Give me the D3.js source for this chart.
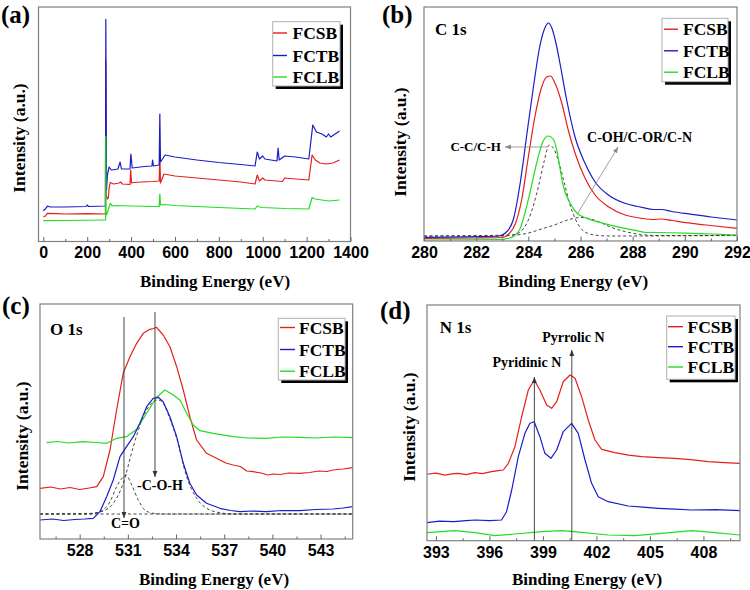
<!DOCTYPE html>
<html><head><meta charset="utf-8">
<script src="https://cdn.jsdelivr.net/npm/d3@7"></script>
<style>
html,body{margin:0;padding:0;background:#fff;}
svg{display:block;}
</style></head><body>
<svg id="chart" width="750" height="590"></svg>
<script>
// ---------- DATA ----------
const seriesNames = ["FCSB", "FCTB", "FCLB"];

// (a) survey spectra [binding energy eV, intensity a.u.]
const surveyFCSB = [[0,24.8],[10,25.5],[18,28.2],[60,27.8],[100,27.5],[200,27.8],[283,27.5],[284.8,181.5],[287,45.5],[292,42.5],[296,43.5],[300,53.5],[305,59],[320,57.5],[345,58.5],[352,59.5],[360,57.5],[395,57],[398,71.5],[402,58.5],[410,59],[450,59.5],[500,60],[528,60.5],[531,85.5],[534,58.5],[540,62],[550,67.5],[600,65.5],[700,63.5],[800,61.5],[900,59.5],[965,57.5],[975,66.5],[985,60.5],[1000,63.5],[1010,61.5],[1090,60],[1100,63.5],[1150,62.5],[1210,61.5],[1225,86.5],[1240,81.5],[1260,78.5],[1290,77.5],[1320,78.5],[1350,81.5]];
const surveyFCTB = [[0,30.8],[10,32.8],[20,35.5],[30,34.5],[100,34.5],[195,35],[200,36.5],[206,35],[283,35.5],[284.8,222.2],[288,51.5],[292,66.5],[300,74.5],[310,71.5],[340,72.5],[350,79.5],[356,72.5],[395,72.5],[399,87.5],[405,73.5],[460,75],[495,75.5],[498,81.5],[502,75.5],[528,76.5],[531,127.5],[534,79.5],[540,81.5],[555,86.5],[600,84.5],[700,81.5],[800,79],[900,77],[965,75.5],[975,89.5],[985,82.5],[1000,85.5],[1010,82.5],[1065,80.5],[1070,93.5],[1075,81.5],[1100,85.5],[1150,84.5],[1210,82.5],[1228,116.5],[1245,109.5],[1270,107.5],[1290,104.5],[1300,107.5],[1310,104.5],[1350,110.5]];
const surveyFCLB = [[0,20.8],[100,21],[280,21.5],[284,21.5],[284.8,105.5],[286,26.5],[290,27.5],[300,34.5],[305,38],[315,35.5],[330,36],[400,35.5],[500,35],[528,35],[531,47.5],[534,36.5],[550,37],[600,36],[800,34],[965,32.5],[975,35.5],[985,34.5],[1000,34],[1100,33],[1210,32.5],[1225,44],[1240,42.5],[1300,40.5],[1350,41.5]];

// (b) C 1s
const c1sFCSB = [[280,2.7],[282,3],[283,3.5],[283.25,7],[283.5,17],[283.75,42],[284,84],[284.25,124],[284.5,153],[284.7,164],[284.85,165],[285.02,158],[285.28,138],[285.53,111],[285.79,88],[286.17,63],[286.56,46],[287.07,34.3],[287.71,26],[288.35,22.7],[288.8,21.5],[289.1,22],[289.5,20.5],[290.26,17.7],[291,15.5],[292,12.7]];
const c1sFCTB = [[280,3.7],[282,4.3],[282.85,5],[283.2,10],[283.45,24],[283.7,60],[283.95,108],[284.2,155],[284.45,196],[284.65,214],[284.77,218],[284.9,213],[285.05,199],[285.21,178],[285.47,141],[285.79,104],[286.17,78],[286.56,59],[287.07,46],[287.7,37.7],[288.35,33.7],[288.8,31.5],[289.1,31.5],[289.5,29.5],[290.26,26.7],[291,24],[292,21]];
const c1sFCLB = [[280,1],[282.98,1.5],[283.23,2.7],[283.45,5],[283.68,12],[283.87,28],[284.06,48],[284.32,78],[284.57,100],[284.77,105],[284.95,102],[285.09,91],[285.21,73],[285.34,55],[285.6,38],[285.86,28],[286.24,22.7],[286.88,17.7],[287.39,14.3],[288.16,10.3],[288.5,8.5],[289,8.5],[290.26,7.7],[291,7],[292,6]];
const c1sFitCC = [[280,5],[283,5],[283.5,6.5],[283.8,12],[284,21],[284.2,36],[284.4,56],[284.6,79],[284.8,96],[285,91],[285.2,76],[285.4,56],[285.6,36],[285.8,22],[286,13],[286.3,7.5],[286.7,5.5],[287.2,5],[292,5.5]];
const c1sFitCOH = [[280,5],[283.5,6],[284,8],[284.5,12],[285,16],[285.5,21],[286,23.5],[286.4,22],[286.8,18],[287.2,13.5],[287.7,9.5],[288.3,6.5],[289,5.5],[292,5.5]];

// (c) O 1s
const o1sFCSB = [[525.53,50.7],[526.2,52],[526.8,50],[527.4,51.5],[528,49.5],[528.6,51],[529.06,52.3],[529.47,62.3],[529.89,89],[530.3,129],[530.71,165.7],[531.13,182.3],[531.55,195.7],[531.96,205.7],[532.37,209.7],[532.6,210.5],[532.79,211.7],[533.2,204],[533.62,192.3],[534.04,172.3],[534.45,149],[534.86,122.3],[535.28,99],[535.9,85.7],[536.73,79],[537.1,76],[537.56,74],[538,72.5],[538.4,68],[538.8,67.3],[539.3,66],[539.7,64],[540.05,65],[540.5,64.5],[541,66],[541.7,65.7],[542.3,66.5],[542.9,68],[543.4,67.5],[543.78,69],[544.4,70],[545,71.3]];
const o1sFCTB = [[525.53,19],[526.3,20],[527,18.5],[527.7,19.5],[528.3,20],[528.85,20.7],[529.26,27.3],[529.68,42.3],[530.09,59],[530.51,82.3],[530.92,92.3],[531.34,102.3],[531.75,115.7],[532.17,132.3],[532.58,140.7],[532.89,141.7],[533.2,137.3],[533.62,122.3],[534.04,102.3],[534.45,75.7],[534.86,55.7],[535.28,44],[535.9,35.7],[536.73,30.7],[537.4,28.5],[537.97,27.3],[538.8,28],[539.63,27.3],[540.6,28.5],[541.7,28.3],[542.7,29.5],[543.78,30],[544.4,31],[545,32.3]];
const o1sFCLB = [[525.95,96.3],[526.6,97.5],[527.3,96],[528.22,97.3],[529,96.5],[529.68,95.7],[530.3,100.7],[530.92,102.3],[531.55,109.7],[532.17,125.7],[532.79,141.7],[533.31,149],[533.83,144],[534.24,139],[534.66,125.7],[535.07,114],[535.49,108.3],[536.31,105.7],[537.56,102.3],[538.5,101],[539.63,100.7],[540.6,102],[541.7,101.7],[542.7,101],[543.8,102],[545,101.3]];
const o1sFitCO = [[525.53,25],[528.5,25],[529.26,27.3],[529.89,37.3],[530.3,52.3],[530.6,60],[530.88,64],[531.24,54],[531.65,39],[532.06,29],[532.58,25.7],[533.2,25],[545,25]];
const o1sFitCOH = [[525.53,25],[528.5,25.5],[529.26,27],[530.09,35.7],[530.71,55.7],[531.34,92.3],[531.96,122.3],[532.58,137.3],[532.89,139],[533.2,135.7],[533.62,120],[534.04,100.7],[534.66,62.3],[535.28,40.7],[535.9,30.7],[536.73,26.3],[537.56,25],[545,25]];
const o1sFitBase = [[525.53,25],[545,25]];

// (d) N 1s
const n1sFCSB = [[392.48,66.4],[393,67.5],[393.5,65.5],[394,67],[394.25,67.4],[394.7,66],[395.19,68],[395.6,67],[396.12,69],[396.5,70],[396.78,70.7],[397.06,77.4],[397.43,94],[397.81,124],[398.18,150.7],[398.51,160.7],[398.83,150.7],[399.21,135.7],[399.49,132.4],[399.77,139],[400.14,159],[400.52,165.7],[400.8,162.4],[401.17,144],[401.54,120.7],[401.92,100.7],[402.29,91.4],[403.04,88],[403.8,85.5],[404.54,84],[405.5,83],[406.4,82.4],[407.3,81],[408.27,79],[409.2,78],[410.05,77.4]];
const n1sFCTB = [[392.48,18],[393.2,19.5],[394,19],[394.7,20],[395.2,20.7],[396,20],[396.68,20.7],[396.96,29],[397.25,50.7],[397.62,84],[397.99,107.4],[398.27,117.4],[398.51,119],[398.83,104],[399.11,87.4],[399.45,82.4],[399.77,90.7],[400.14,109],[400.61,117.4],[400.98,107.4],[401.36,80.7],[401.73,57.4],[402.1,44],[402.66,39],[403.79,34.7],[404.6,33.5],[405.47,32.4],[406.4,31.5],[407.34,30.7],[408.7,31],[410.05,30]];
const n1sFCLB = [[392.48,8],[394.07,10],[395.19,8],[396.31,5],[397.43,6.7],[398.93,9],[400.05,10],[401.17,8.4],[402.66,5.7],[404.16,5],[405.66,7.4],[407.34,10],[408.65,8],[410.05,5.7]];

// tick values
const ticksA = [0,200,400,600,800,1000,1200,1400];
const minorA = [100,300,500,700,900,1100,1300];
const ticksB = [280,282,284,286,288,290,292];
const minorB = [281,283,285,287,289,291];
const ticksC = [528,531,534,537,540,543];
const minorC = [526.5,529.5,532.5,535.5,538.5,541.5,544.5];
const ticksD = [393,396,399,402,405,408];
const minorD = [394.5,397.5,400.5,403.5,406.5,409.5];

// annotations
const cArrows = [[530.76,222,21],[532.69,227,62]];      // [eV, top, bottom]
const dArrows = [[398.52,163.7,0],[400.62,190.7,0]];

// ---------- DRAW ----------
const colors = ["#e3201c", "#1c1cc8", "#22dd22"];
const SERIF = "'Liberation Serif','Times New Roman',serif";
const SANS = "'Liberation Sans',Arial,sans-serif";
const svg = d3.select("#chart");
const defs = svg.append("defs");
function mk(id, color){
  defs.append("marker").attr("id",id).attr("viewBox","0 0 10 10")
    .attr("refX",10).attr("refY",5).attr("markerWidth",6).attr("markerHeight",6)
    .attr("markerUnits","userSpaceOnUse").attr("orient","auto")
    .append("path").attr("d","M0,1L10,5L0,9z").attr("fill",color);
}
mk("arrDark","#333"); mk("arrGray","#888");

const panels = [
  {id:"a", x0:38.5, x1:350.5, y0:7, y1:241.5, xd:[-22,1400], ticks:ticksA, minor:minorA,
   series:[surveyFCSB,surveyFCTB,surveyFCLB], order:[0,1,2], curve:d3.curveLinear, fits:[],
   label:{x:1,y:23,t:"(a)"}, xt:{x:215,y:287}, yt:{x:25,y:138},
   leg:{x:272.7,y:21.7,w:67.3,h:64.3,rows:[33,55.5,77],l0:273,l1:287,tx:292.5}},
  {id:"b", x0:424, x1:737, y0:7, y1:241, xd:[280,292], ticks:ticksB, minor:minorB,
   series:[c1sFCSB,c1sFCTB,c1sFCLB], order:[0,1,2], curve:d3.curveMonotoneX, fits:[c1sFitCC,c1sFitCOH],
   label:{x:382,y:23,t:"(b)"}, xt:{x:573,y:287}, yt:{x:406,y:142},
   leg:{x:662,y:18.3,w:66,h:63.4,rows:[29.2,50.8,72.2],l0:664,l1:678,tx:683}},
  {id:"c", x0:40, x1:352.7, y0:304, y1:539, xd:[525.53,545], ticks:ticksC, minor:minorC,
   series:[o1sFCSB,o1sFCTB,o1sFCLB], order:[0,2,1], curve:d3.curveLinear, fits:[o1sFitBase,o1sFitCO,o1sFitCOH],
   label:{x:2,y:314,t:"(c)"}, xt:{x:214,y:585}, yt:{x:28,y:436},
   leg:{x:278.3,y:318.3,w:66.7,h:61.7,rows:[327.5,349.5,371.2],l0:280,l1:295,tx:299}},
  {id:"d", x0:427, x1:740, y0:305, y1:540.7, xd:[392.5,410.05], ticks:ticksD, minor:minorD,
   series:[n1sFCSB,n1sFCTB,n1sFCLB], order:[0,1,2], curve:d3.curveLinear, fits:[],
   label:{x:380,y:319,t:"(d)"}, xt:{x:587,y:585}, yt:{x:415,y:427},
   leg:{x:666.7,y:316,w:68.3,h:63.3,rows:[326.7,346.7,367],l0:668,l1:683,tx:687.5}}
];

panels.forEach(p=>{
  const x = d3.scaleLinear().domain(p.xd).range([p.x0,p.x1]);
  const y = d3.scaleLinear().domain([0,p.y1-p.y0]).range([p.y1,p.y0]);
  p.x = x; p.y = y;
  const g = svg.append("g");
  const cid = "clip"+p.id;
  defs.append("clipPath").attr("id",cid).append("rect")
    .attr("x",p.x0).attr("y",p.y0).attr("width",p.x1-p.x0).attr("height",p.y1-p.y0);
  const plot = g.append("g").attr("clip-path",`url(#${cid})`);
  const line = d3.line().x(d=>x(d[0])).y(d=>y(d[1])).curve(p.curve);
  const fitLine = d3.line().x(d=>x(d[0])).y(d=>y(d[1])).curve(d3.curveMonotoneX);

  p.fits.forEach(f=>{
    plot.append("path").datum(f).attr("d",fitLine)
      .attr("fill","none").attr("stroke","#333").attr("stroke-width",0.9).attr("stroke-dasharray","3,2.5");
  });

  p.order.forEach(k=>{
    plot.append("path").datum(p.series[k]).attr("d",line)
      .attr("fill","none").attr("stroke",colors[k]).attr("stroke-width",1.2).attr("stroke-linejoin","round");
  });

  // frame
  g.append("rect").attr("x",p.x0).attr("y",p.y0).attr("width",p.x1-p.x0).attr("height",p.y1-p.y0)
    .attr("fill","none").attr("stroke","#808080").attr("stroke-width",1.2);

  // axes
  const ax = d3.axisBottom(x).tickValues(p.ticks).tickSize(-4.5).tickPadding(5.6).tickFormat(d3.format("d"));
  const axg = g.append("g").attr("transform",`translate(0,${p.y1})`).call(ax);
  axg.select(".domain").remove();
  axg.attr("font-family",SANS).attr("font-size",16).attr("font-weight","bold");
  axg.selectAll("line").attr("stroke","#666");
  axg.selectAll("text").attr("fill","#000");
  const mg = g.append("g").attr("transform",`translate(0,${p.y1})`)
    .call(d3.axisBottom(x).tickValues(p.minor).tickSize(-2.5).tickFormat(""));
  mg.select(".domain").remove();
  mg.selectAll("line").attr("stroke","#666");

  // titles
  g.append("text").attr("x",p.xt.x).attr("y",p.xt.y).attr("text-anchor","middle")
    .attr("font-family",SERIF).attr("font-weight","bold").attr("font-size",17).text("Binding Energy (eV)");
  g.append("text").attr("transform",`translate(${p.yt.x},${p.yt.y}) rotate(-90)`).attr("text-anchor","middle")
    .attr("font-family",SERIF).attr("font-weight","bold").attr("font-size",17.5).text("Intensity (a.u.)");
  g.append("text").attr("x",p.label.x).attr("y",p.label.y)
    .attr("font-family",SERIF).attr("font-weight","bold").attr("font-size",25).text(p.label.t);

  // legend
  const L = p.leg;
  g.append("rect").attr("x",L.x+3).attr("y",L.y+3).attr("width",L.w).attr("height",L.h).attr("fill","#000");
  g.append("rect").attr("x",L.x).attr("y",L.y).attr("width",L.w).attr("height",L.h)
    .attr("fill","#fff").attr("stroke","#b0b0b0").attr("stroke-width",1);
  seriesNames.forEach((n,k)=>{
    g.append("line").attr("x1",L.l0).attr("x2",L.l1).attr("y1",L.rows[k]).attr("y2",L.rows[k])
      .attr("stroke",colors[k]).attr("stroke-width",1.4);
    g.append("text").attr("x",L.tx).attr("y",L.rows[k]+6)
      .attr("font-family",SERIF).attr("font-weight","bold").attr("font-size",17.5).text(n);
  });
});

// annotations
function ann(p, ex, v, t, size, anchor){
  svg.append("text").attr("x",p.x(ex)).attr("y",p.y(v)).attr("text-anchor",anchor||"start")
    .attr("font-family",SERIF).attr("font-weight","bold").attr("font-size",size).text(t);
}
const [pa,pb,pc,pd] = panels;
ann(pb,280.42,206,"C 1s",17);
ann(pb,282.95,90,"C-C/C-H",13,"end");
ann(pb,286.25,99,"C-OH/C-OR/C-N",14);
svg.append("line").attr("x1",pb.x(284.75)).attr("y1",pb.y(94)).attr("x2",pb.x(283.1)).attr("y2",pb.y(94))
  .attr("stroke","#888").attr("stroke-width",0.8).attr("marker-end","url(#arrGray)");
svg.append("line").attr("x1",pb.x(285.9)).attr("y1",pb.y(28)).attr("x2",pb.x(287.44)).attr("y2",pb.y(94))
  .attr("stroke","#888").attr("stroke-width",0.8).attr("marker-end","url(#arrGray)");

ann(pc,526.15,204,"O 1s",17);
ann(pc,531.57,49,"-C-O-H",14);
ann(pc,530.85,11,"C=O",14,"middle");
cArrows.forEach(a=>{
  svg.append("line").attr("x1",pc.x(a[0])).attr("x2",pc.x(a[0])).attr("y1",pc.y(a[1])).attr("y2",pc.y(a[2]))
    .attr("stroke","#333").attr("stroke-width",0.9).attr("marker-end","url(#arrDark)");
});

ann(pd,393.22,207.7,"N 1s",17);
ann(pd,400.71,198.7,"Pyrrolic N",14,"middle");
ann(pd,398.1,173.7,"Pyridinic N",14,"middle");
dArrows.forEach(a=>{
  svg.append("line").attr("x1",pd.x(a[0])).attr("x2",pd.x(a[0])).attr("y1",pd.y(a[2])).attr("y2",pd.y(a[1]))
    .attr("stroke","#333").attr("stroke-width",0.9).attr("marker-end","url(#arrDark)");
});
</script>
</body></html>
